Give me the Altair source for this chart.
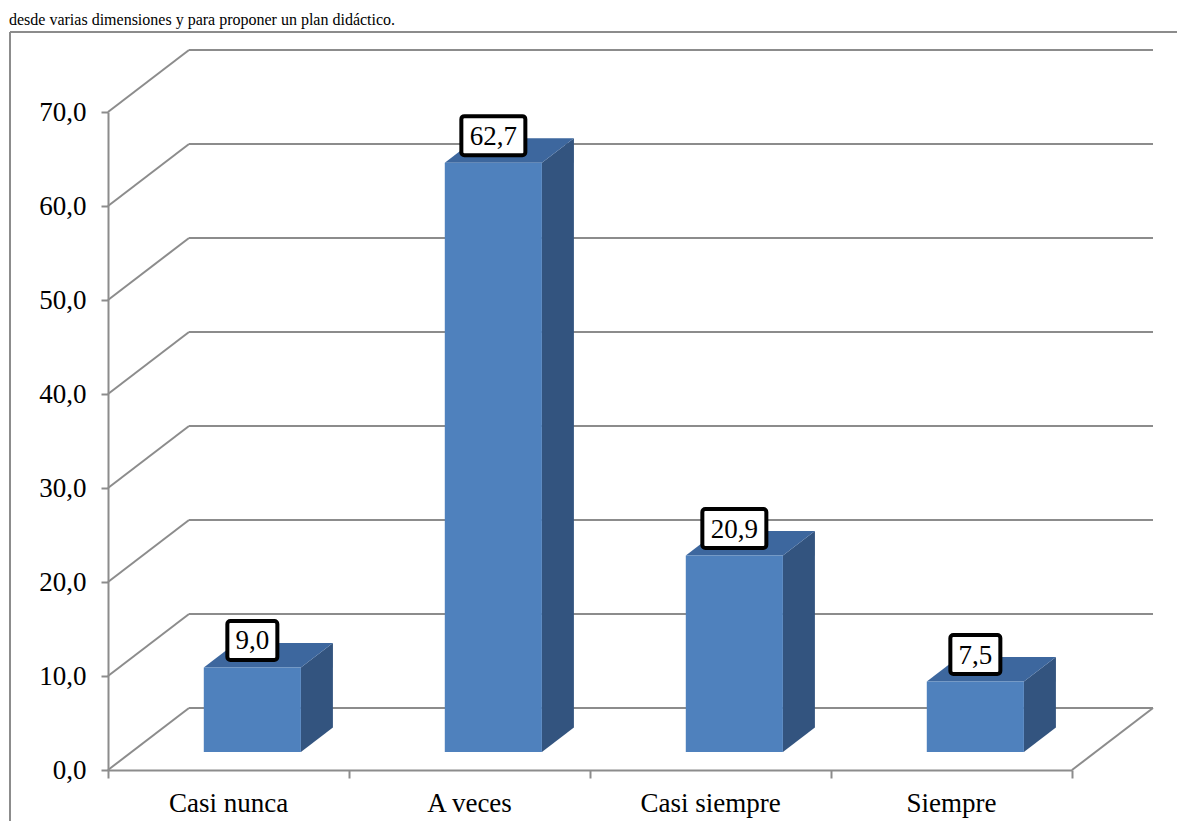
import altair as alt
import pandas as pd

# ---- data ----
categories = ["Casi nunca", "A veces", "Casi siempre", "Siempre"]
values = [9.0, 62.7, 20.9, 7.5]
value_labels = ["9,0", "62,7", "20,9", "7,5"]
y_ticks = [0, 10, 20, 30, 40, 50, 60, 70]
heading = "desde varias dimensiones y para proponer un plan didáctico."

# ---- layout / styling constants ----
W, H = 964, 658
NCAT = len(categories)
YMAX = 70
PXX = W / NCAT            # px per category unit
PXY = H / YMAX            # px per value unit
DX = 81 / PXX             # depth of the 3-D box in x units
DY = 62 / PXY             # depth of the 3-D box in y units
A, B = 0.29, 0.685        # front/back depth fraction of bars
BL, BR = 0.30, 0.703      # bar left/right inside a category
FONT = "'Liberation Serif', 'Times New Roman', 'DejaVu Serif', serif"
FS = 27
GRID = "#8c8c8c"
FRONT, SIDE, TOP = "#4F81BD", "#33547F", "#3D679E"

xs = alt.Scale(domain=[0, NCAT], nice=False, zero=False)
ys = alt.Scale(domain=[0, YMAX], nice=False, zero=False)

# gridlines of the 3-D walls
seg = []
for t in y_ticks:
    seg.append(dict(x=DX, x2=NCAT + DX, y=t + DY, y2=t + DY))   # back wall
    seg.append(dict(x=0, x2=DX, y=t, y2=t + DY))                # side wall
seg.append(dict(x=NCAT, x2=NCAT + DX, y=0, y2=DY))              # floor edge
seg_df = pd.DataFrame(seg)

grid = alt.Chart(seg_df).mark_rule(color=GRID, strokeWidth=2).encode(
    x=alt.X("x:Q", scale=xs, title=None,
            axis=alt.Axis(values=list(range(NCAT + 1)), labels=False, grid=False,
                          domainColor=GRID, domainWidth=2, tickColor=GRID,
                          tickWidth=2, tickSize=8)),
    x2="x2:Q",
    y=alt.Y("y:Q", scale=ys, title=None,
            axis=alt.Axis(values=y_ticks, grid=False, domainColor=GRID,
                          domainWidth=2, tickColor=GRID, tickWidth=2, tickSize=7,
                          labelFont=FONT, labelFontSize=FS, labelColor="black",
                          labelPadding=15,
                          labelExpr="replace(format(datum.value, '.1f'), '.', ',')")),
    y2="y2:Q",
)

# bar geometry
front_rows, side_rows, top_rows, lab_rows = [], [], [], []
for i, (c, v, l) in enumerate(zip(categories, values, value_labels)):
    L, R = i + BL, i + BR
    front_rows.append(dict(cat=c, x=L + A * DX, x2=R + A * DX, y=A * DY, y2=v + A * DY))
    side_rows += [dict(cat=c, x=R + A * DX, y=A * DY, y2=v + A * DY),
                  dict(cat=c, x=R + B * DX, y=B * DY, y2=v + B * DY)]
    top_rows += [dict(cat=c, y=v + A * DY, x=L + A * DX, x2=R + A * DX),
                 dict(cat=c, y=v + B * DY, x=L + B * DX, x2=R + B * DX)]
    xc = (L + R) / 2 + A * DX
    hw = (14 * len(l) + 8) / 2 / PXX
    yc = v + A * DY + 27 / PXY
    lab_rows.append(dict(cat=c, label=l, xc=xc, xl=xc - hw, xr=xc + hw, yc=yc))

front = alt.Chart(pd.DataFrame(front_rows)).mark_rect(color=FRONT).encode(
    x=alt.X("x:Q", scale=xs), x2="x2:Q",
    y=alt.Y("y:Q", scale=ys), y2="y2:Q")

side = alt.Chart(pd.DataFrame(side_rows)).mark_area(color=SIDE, orient="vertical",
                                                    interpolate="linear").encode(
    x=alt.X("x:Q", scale=xs), y=alt.Y("y:Q", scale=ys), y2="y2:Q", detail="cat:N")

top = alt.Chart(pd.DataFrame(top_rows)).mark_area(color=TOP, orient="horizontal",
                                                  interpolate="linear").encode(
    y=alt.Y("y:Q", scale=ys), x=alt.X("x:Q", scale=xs), x2="x2:Q", detail="cat:N")

lab_df = pd.DataFrame(lab_rows)
box = alt.Chart(lab_df).mark_rect(fill="white", stroke="black", strokeWidth=4,
                                  cornerRadius=3, yOffset=-19.5, y2Offset=19.5).encode(
    x=alt.X("xl:Q", scale=xs), x2="xr:Q",
    y=alt.Y("yc:Q", scale=ys), y2="yc:Q")
lab = alt.Chart(lab_df).mark_text(font=FONT, fontSize=FS, color="black",
                                  baseline="middle", align="center", dy=1).encode(
    x=alt.X("xc:Q", scale=xs), y=alt.Y("yc:Q", scale=ys), text="label:N")

cat_df = pd.DataFrame(dict(cat=categories, pos=[i + 0.5 for i in range(NCAT)], zero=0))
cats = alt.Chart(cat_df).mark_text(font=FONT, fontSize=FS, color="black",
                                   baseline="alphabetic", align="center", dy=42).encode(
    x=alt.X("pos:Q", scale=xs), y=alt.Y("zero:Q", scale=ys), text="cat:N")

# chart-area frame (left and top edges visible in the reference)
frame_l = alt.Chart(pd.DataFrame({"k": [0]})).mark_rule(color=GRID, strokeWidth=2).encode(
    x=alt.value(-98), y=alt.value(-80), y2=alt.value(H + 60))
frame_t = alt.Chart(pd.DataFrame({"k": [0]})).mark_rule(color=GRID, strokeWidth=2).encode(
    x=alt.value(-98), x2=alt.value(W + 120), y=alt.value(-80))
head = alt.Chart(pd.DataFrame({"t": [heading]})).mark_text(
    font=FONT, fontSize=16, color="black", align="left", baseline="alphabetic").encode(
    x=alt.value(-99), y=alt.value(-87), text="t:N")

chart = alt.layer(grid, side, top, front, box, lab, cats, frame_l, frame_t, head).properties(
    width=W, height=H,
    autosize=alt.AutoSizeParams(type="none"),
    padding={"left": 100, "top": 104, "right": 105, "bottom": 51},
).configure(background="white").configure_view(stroke="transparent", strokeWidth=0)

chart.save("out.html", embed_options={"renderer": "svg", "actions": False})
